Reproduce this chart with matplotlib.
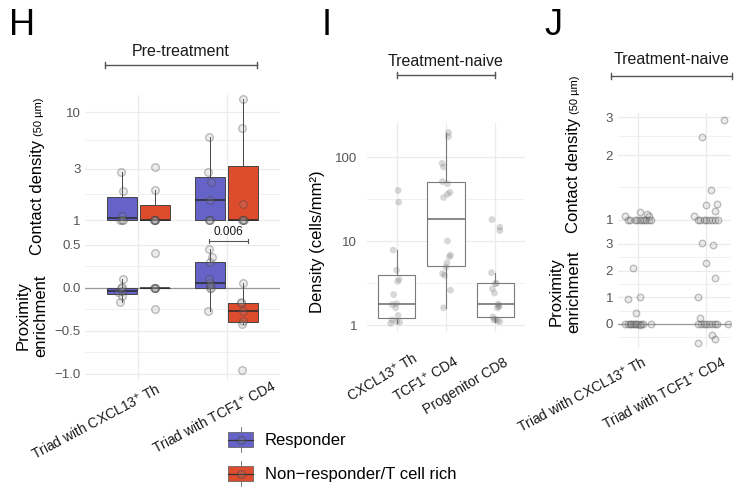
import numpy as np
import matplotlib
matplotlib.use("Agg")
import matplotlib.pyplot as plt
from matplotlib import cbook, transforms
from matplotlib.patches import Rectangle
from matplotlib.lines import Line2D
from matplotlib.legend_handler import HandlerBase
from matplotlib.ticker import NullFormatter

plt.rcParams['font.family'] = ['Liberation Sans', 'DejaVu Sans']
plt.rcParams['mathtext.fontset'] = 'custom'
plt.rcParams['mathtext.rm'] = 'Liberation Sans'
plt.rcParams['mathtext.it'] = 'Liberation Sans:italic'
plt.rcParams['mathtext.bf'] = 'Liberation Sans:bold'

# ---------------- data ----------------
# Panel H (pre-treatment)
h_categories = ["Triad with CXCL13$^{+}$ Th", "Triad with TCF1$^{+}$ CD4"]
h_groups = ["Responder", "Non\u2212responder/T cell rich"]
h_contact_resp = [[1.0, 1.0, 1.0, 1.1, 1.86, 2.78],
                  [1.0, 1.0, 1.0, 1.53, 2.25, 2.78, 5.9]]
h_contact_nonresp = [[1.0, 1.0, 1.0, 1.0, 1.0, 1.9, 3.1],
                     [1.0, 1.0, 1.0, 1.0, 1.4, 7.1, 13.2]]
h_prox_resp = [[-0.16, -0.09, -0.05, -0.03, 0.0, 0.01, 0.10],
               [-0.27, 0.0, 0.0, 0.03, 0.055, 0.10, 0.30, 0.36, 0.45]]
h_prox_nonresp = [[-0.25, 0.0, 0.0, 0.0, 0.0, 0.41],
                  [-0.95, -0.42, -0.38, -0.27, -0.18, -0.16, 0.055]]
h_pvalue = "0.006"

# Panel I (treatment-naive densities)
i_categories = ["CXCL13$^{+}$ Th", "TCF1$^{+}$ CD4", "Progenitor CD8"]
i_density = [
    [1.05, 1.08, 1.1, 1.15, 1.3, 1.6, 1.75, 1.8, 2.3, 3.3, 3.5, 4.5, 7.8, 29, 40],
    [1.6, 2.6, 3.9, 4.1, 4.9, 5.5, 6.5, 6.8, 10, 33, 36, 38, 48, 51, 76, 84, 175, 195],
    [1.1, 1.12, 1.15, 1.17, 1.25, 1.6, 1.65, 1.7, 1.78, 2.4, 2.7, 3.1, 3.15, 4.2, 13.3, 14.6, 18],
]

# Panel J (treatment-naive)
j_categories = ["Triad with CXCL13$^{+}$ Th", "Triad with TCF1$^{+}$ CD4"]
j_contact = [
    [1.04, 1.0, 1.0, 1.0, 1.0, 1.0, 1.0, 1.0, 1.0, 1.0, 1.08, 1.06, 1.04, 1.0],
    [2.9, 2.43, 1.38, 1.18, 1.17, 1.1, 1.04, 1.0, 1.0, 1.0, 1.0, 1.0, 1.0, 1.0, 1.0],
]
j_prox = [
    [2.09, 0.93, 1.0, 0.42, 0, 0, 0, 0, 0, 0, 0, 0, 0, 0, 0.0, -0.05],
    [3.02, 2.94, 2.27, 1.71, 1.0, 0.21, 0, 0, 0, 0, 0, 0, 0, 0, 0.0, -0.41, -0.57, -0.72],
]

# horizontal jitter (category units)
h_contact_resp_jit = [[-0.02, 0.0, 0.01, 0.0, 0.01, -0.01], [-0.02, -0.01, -0.02, 0.0, 0.01, -0.03, -0.02]]
h_contact_nonresp_jit = [[0.0, -0.01, 0.01, 0.0, -0.01, 0.01, 0.0], [0.0, 0.01, -0.01, 0.0, 0.0, -0.01, 0.0]]
h_prox_resp_jit = [[-0.02, 0.0, -0.04, 0.0, -0.01, 0.0, 0.01], [-0.03, -0.01, 0.01, 0.0, 0.0, -0.02, 0.0, 0.02, -0.02]]
h_prox_nonresp_jit = [[0.01, 0.0, 0.01, -0.01, 0.0, 0.01], [-0.01, -0.01, 0.0, 0.0, -0.02, -0.03, 0.0]]
i_jit = [
    [-0.12, 0.06, 0.0, -0.09, 0.03, -0.02, -0.09, 0.0, -0.06, 0.02, 0.05, 0.0, -0.07, 0.04, 0.03],
    [-0.05, 0.09, -0.03, -0.07, 0.0, 0.02, 0.07, 0.09, 0.03, -0.05, 0.03, 0.08, 0.03, -0.07, -0.05, -0.08, 0.05, 0.05],
    [0.09, 0.04, -0.03, 0.0, -0.05, 0.04, 0.07, 0.07, 0.06, -0.02, -0.06, 0.0, 0.02, -0.08, 0.09, 0.09, -0.07],
]
j_contact_jit = [
    [-0.19, -0.16, -0.12, -0.05, -0.02, 0.02, 0.05, 0.08, 0.11, 0.15, 0.03, 0.13, 0.16, 0.19],
    [0.26, -0.07, 0.06, 0.15, 0.0, 0.12, -0.18, -0.13, -0.09, -0.04, 0.0, 0.04, 0.08, 0.12, 0.17],
]
j_prox_jit = [
    [-0.08, -0.16, 0.03, -0.04, -0.19, -0.16, -0.13, -0.11, -0.08, -0.05, -0.03, 0.0, 0.04, 0.07, 0.18, 0.03],
    [-0.07, 0.10, 0.0, 0.12, -0.13, -0.10, -0.12, -0.08, -0.04, 0.0, 0.04, 0.08, 0.12, 0.16, 0.31, 0.08, 0.12, -0.12],
]

# ---------------- style ----------------
BLUE = '#6562C8'
RED = '#DE4C2E'
GRID = '#EBEBEB'
TICK_C = '#555555'
OPEN_PT = dict(s=30, facecolor=(0.6, 0.6, 0.6, 0.18), edgecolor=(0.25, 0.25, 0.25, 0.32), linewidths=1.0, zorder=4)
OPEN_PT_J = dict(s=22, facecolor=(0.6, 0.6, 0.6, 0.18), edgecolor=(0.25, 0.25, 0.25, 0.32), linewidths=1.0, zorder=4)
FILL_PT = dict(s=24, facecolor=(0.45, 0.45, 0.45, 0.28), edgecolor='none', zorder=4)

W, H = 748, 494
fig = plt.figure(figsize=(W / 100, H / 100), dpi=100)
fig.patch.set_facecolor('white')


def px_axes(x0, y0, x1, y1):
    ax = fig.add_axes([x0 / W, 1 - y1 / H, (x1 - x0) / W, (y1 - y0) / H])
    for s in ax.spines.values():
        s.set_visible(False)
    ax.set_facecolor('none')
    return ax


def style_axis(ax, ncat, xlim, major, minor, labels, pad, log=False):
    if log:
        ax.set_yscale('log')
    ax.set_xlim(*xlim)
    ax.set_xticks(range(ncat))
    ax.set_xticklabels([])
    ax.set_yticks(major)
    ax.set_yticklabels(labels)
    ax.set_yticks(minor, minor=True)
    ax.yaxis.set_minor_formatter(NullFormatter())
    ax.tick_params(which='both', length=0, labelsize=9.5, labelcolor=TICK_C, pad=pad)
    ax.grid(which='major', axis='both', color=GRID, lw=0.9, zorder=0)
    ax.grid(which='minor', axis='y', color=GRID, lw=0.5, zorder=0)
    ax.set_axisbelow(True)


def draw_box(ax, values, pos, width, face, edge, med, log=False, lw=0.7):
    v = np.log10(values) if log else np.asarray(values, dtype=float)
    st = cbook.boxplot_stats(v, whis=1.5)[0]
    if log:
        for k in ('med', 'q1', 'q3', 'whislo', 'whishi', 'cilo', 'cihi', 'mean'):
            st[k] = 10 ** st[k]
    st['fliers'] = []
    ax.bxp([st], positions=[pos], widths=width, patch_artist=True, showfliers=False,
           showcaps=False, manage_ticks=False,
           boxprops=dict(facecolor=face, edgecolor=edge, linewidth=lw),
           medianprops=dict(color=med, linewidth=1.1),
           whiskerprops=dict(color=edge, linewidth=lw))


def cat_labels(ax, labels, offsets, fontsize=10, rot=28):
    base = transforms.blended_transform_factory(ax.transData, ax.transAxes)
    for p, (lab, (dx, dy)) in enumerate(zip(labels, offsets)):
        tr = transforms.offset_copy(base, fig=fig, x=dx, y=-dy, units='dots')
        ax.text(p, 0, lab, transform=tr, rotation=rot, rotation_mode='anchor',
                ha='right', va='top', fontsize=fontsize, color='#1A1A1A')


def bracket(ax, x0, x1, ypx, text, ytext):
    tr = transforms.blended_transform_factory(ax.transData, fig.transFigure)
    y = 1 - ypx / H
    t = 3.0 / H
    ax.plot([x0, x1], [y, y], color='#555555', lw=1.0, transform=tr, clip_on=False)
    ax.plot([x0, x0], [y - t, y + t], color='#555555', lw=1.0, transform=tr, clip_on=False)
    ax.plot([x1, x1], [y - t, y + t], color='#555555', lw=1.0, transform=tr, clip_on=False)
    ax.text((x0 + x1) / 2, 1 - ytext / H, text, transform=tr, ha='center', va='center',
            fontsize=11.5, color='#1A1A1A')


def composite_ylabel(x, y_bottom, main, small, gap=4):
    t = fig.text(x / W, 1 - y_bottom / H, main, rotation=90, rotation_mode='anchor',
                 ha='left', va='baseline', fontsize=12, color='black')
    r = fig.canvas.get_renderer()
    length = t.get_window_extent(r).height
    fig.text(x / W, 1 - (y_bottom - length - gap) / H, small, rotation=90,
             rotation_mode='anchor', ha='left', va='baseline', fontsize=8, color='black')


DODGE = 0.185
BW = 0.34

# ---------------- Panel H ----------------
axHu = px_axes(85, 95, 280, 226)
style_axis(axHu, 2, (-0.6, 1.6), [1, 3, 10], [np.sqrt(3), np.sqrt(30)], ['1', '3', '10'], 3, log=True)
axHu.set_ylim(0.88, 14.4)
axHl = px_axes(85, 226, 280, 380)
style_axis(axHl, 2, (-0.6, 1.6), [-1.0, -0.5, 0.0, 0.5], [-0.75, -0.25, 0.25],
           ['\u22121.0', '\u22120.5', '0.0', '0.5'], 3)
axHl.set_ylim(-1.07, 0.72)
axHl.axhline(0, color='#9A9A9A', lw=0.9, zorder=1)

for i in range(2):
    pr, pn = i - DODGE, i + DODGE
    draw_box(axHu, h_contact_resp[i], pr, BW, BLUE, '#444444', '#2A2A2A', log=True)
    draw_box(axHu, h_contact_nonresp[i], pn, BW, RED, '#444444', '#2A2A2A', log=True)
    axHu.scatter(pr + np.array(h_contact_resp_jit[i]), h_contact_resp[i], **OPEN_PT)
    axHu.scatter(pn + np.array(h_contact_nonresp_jit[i]), h_contact_nonresp[i], **OPEN_PT)
    draw_box(axHl, h_prox_resp[i], pr, BW, BLUE, '#444444', '#2A2A2A')
    draw_box(axHl, h_prox_nonresp[i], pn, BW, RED, '#444444', '#2A2A2A')
    axHl.scatter(pr + np.array(h_prox_resp_jit[i]), h_prox_resp[i], **OPEN_PT)
    axHl.scatter(pn + np.array(h_prox_nonresp_jit[i]), h_prox_nonresp[i], **OPEN_PT)

# p-value bracket
px0, px1, py = 1 - DODGE - 0.02, 1 + DODGE + 0.05, 0.547
axHl.plot([px0, px1], [py, py], color='#555555', lw=0.8, clip_on=False, zorder=5)
for xx in (px0, px1):
    axHl.plot([xx, xx], [py - 0.025, py + 0.025], color='#555555', lw=0.8, clip_on=False, zorder=5)
axHl.text((px0 + px1) / 2, py + 0.1, h_pvalue, ha='center', va='center', fontsize=8.5, color='#1A1A1A')

cat_labels(axHl, h_categories, [(18, 1), (45, -2)])
bracket(axHu, -0.38, 1.34, 65, "Pre-treatment", 52)
composite_ylabel(42, 255, "Contact density", "(50 \u00b5m)")
fig.text(32 / W, 1 - 316 / H, "Proximity\nenrichment", rotation=90, ha='center', va='center',
         multialignment='center', fontsize=12, color='black')
fig.text(9 / W, 1 - 35 / H, "H", fontsize=26, ha='left', va='baseline')

# ---------------- Panel I ----------------
axI = px_axes(367, 123, 525, 332)
style_axis(axI, 3, (-0.6, 2.6), [1, 10, 100], [np.sqrt(10), np.sqrt(1000)], ['1', '10', '100'], 7, log=True)
axI.set_ylim(0.826, 254)
for i in range(3):
    draw_box(axI, i_density[i], i, 0.75, 'white', '#7A7A7A', '#6A6A6A', log=True, lw=0.8)
    axI.scatter(i + np.array(i_jit[i]), i_density[i], **FILL_PT)
cat_labels(axI, i_categories, [(16, 18), (8, 21), (8, 23)], rot=31)
bracket(axI, 0, 2, 75, "Treatment-naive", 61)
fig.text(322 / W, 1 - 242 / H, "Density (cells/mm\u00b2)", rotation=90, rotation_mode='anchor',
         ha='center', va='baseline', fontsize=12, color='black')
fig.text(322 / W, 1 - 35 / H, "I", fontsize=26, ha='left', va='baseline')

# ---------------- Panel J ----------------
axJu = px_axes(618, 113, 731, 231)
style_axis(axJu, 2, (-0.3, 1.36), [1, 2, 3], [np.sqrt(2), np.sqrt(6)], ['1', '2', '3'], 3.6, log=True)
axJu.set_ylim(0.885, 3.14)
axJl = px_axes(618, 231, 731, 348)
style_axis(axJl, 2, (-0.3, 1.36), [0, 1, 2, 3], [-0.5, 0.5, 1.5, 2.5], ['0', '1', '2', '3'], 3.6)
axJl.set_ylim(-0.9, 3.48)
axJl.axhline(0, color='#9A9A9A', lw=0.9, zorder=1)
for i in range(2):
    axJu.scatter(i + np.array(j_contact_jit[i]), j_contact[i], **OPEN_PT_J)
    axJl.scatter(i + np.array(j_prox_jit[i]), j_prox[i], **OPEN_PT_J)
cat_labels(axJl, j_categories, [(3, 6), (15, 6)])
bracket(axJu, -0.4, 1.37, 76, "Treatment-naive", 60)
composite_ylabel(578, 233, "Contact density", "(50 \u00b5m)")
fig.text(565 / W, 1 - 292 / H, "Proximity\nenrichment", rotation=90, ha='center', va='center',
         multialignment='center', fontsize=12, color='black')
fig.text(544 / W, 1 - 35 / H, "J", fontsize=26, ha='left', va='baseline')


# ---------------- legend ----------------
class BoxKeyHandler(HandlerBase):
    def create_artists(self, legend, orig_handle, xdescent, ydescent, width, height, fontsize, trans):
        face = orig_handle.get_facecolor()
        x0, y0 = -xdescent, -ydescent
        cx, cy = x0 + width / 2, y0 + height / 2
        wl = Line2D([cx, cx], [y0 - 0.3 * height, y0 + 1.3 * height], color='#666666', lw=0.6, transform=trans)
        rect = Rectangle((x0, y0), width, height, facecolor=face, edgecolor='#666666', lw=0.6, transform=trans)
        ml = Line2D([x0, x0 + width], [cy, cy], color='#333333', lw=0.9, transform=trans)
        pt = Line2D([cx], [cy], marker='o', ms=5.5, mfc=(0.5, 0.5, 0.5, 0.25),
                    mec=(0.25, 0.25, 0.25, 0.45), mew=0.9, ls='none', transform=trans)
        return [wl, rect, ml, pt]


handles = [Rectangle((0, 0), 1, 1, facecolor=BLUE), Rectangle((0, 0), 1, 1, facecolor=RED)]
fig.legend(handles, h_groups, handler_map={Rectangle: BoxKeyHandler()}, loc='upper left',
           bbox_to_anchor=(228 / W, 1 - 432 / H), frameon=False, fontsize=12,
           handlelength=1.5, handleheight=1.05, handletextpad=0.7, labelspacing=1.05,
           borderpad=0, borderaxespad=0)

fig.savefig("out.png", dpi=100, facecolor='white')
